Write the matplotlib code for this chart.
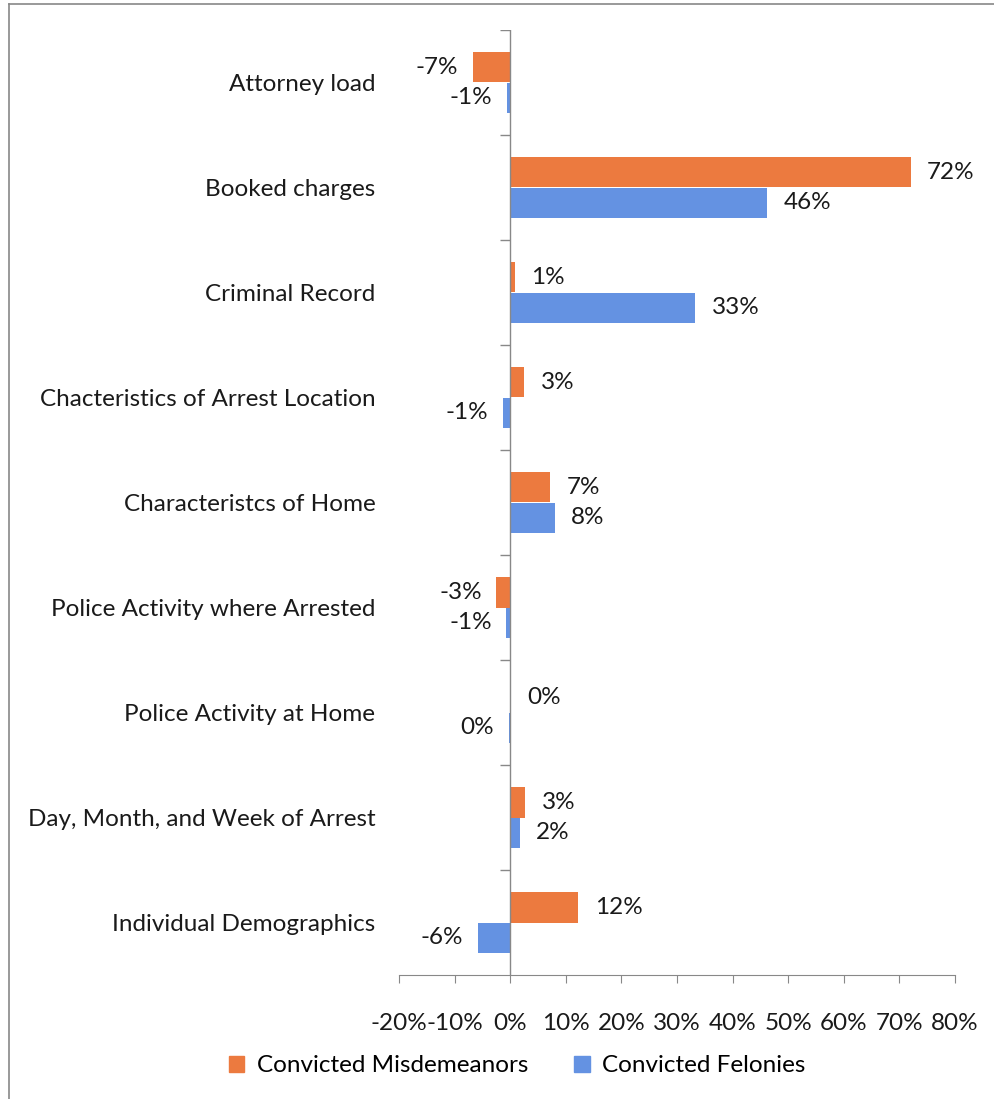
import numpy as np
import matplotlib
matplotlib.use("Agg")
import matplotlib.pyplot as plt
from matplotlib.patches import Patch
from matplotlib.lines import Line2D

plt.rcParams['font.family'] = ['Lato', 'DejaVu Sans']

categories = ["Attorney load", "Booked charges", "Criminal Record",
              "Chacteristics of Arrest Location", "Characteristcs of Home",
              "Police Activity where Arrested", "Police Activity at Home",
              "Day, Month, and Week of Arrest", "Individual Demographics"]
misdemeanors = [-6.7, 72.0, 0.8, 2.5, 7.2, -2.5, 0.1, 2.7, 12.2]
felonies = [-0.6, 46.2, 33.2, -1.3, 8.0, -0.7, -0.3, 1.7, -5.8]
mis_labels = ["-7%", "72%", "1%", "3%", "7%", "-3%", "0%", "3%", "12%"]
fel_labels = ["-1%", "46%", "33%", "-1%", "8%", "-1%", "0%", "2%", "-6%"]
xticks = [-20, -10, 0, 10, 20, 30, 40, 50, 60, 70, 80]

orange = "#EC7A3F"
blue = "#6492E2"
txt = "#1a1a1a"
fs = 17.5

W, H = 994, 1099
fig = plt.figure(figsize=(W / 100, H / 100), dpi=100)
ax = fig.add_axes([399 / W, 1 - 975 / H, (955 - 399) / W, (975 - 30) / H])

n = len(categories)
y = np.arange(n)
h = 0.29
ax.barh(y - h / 2, misdemeanors, height=h, color=orange)
ax.barh(y + h / 2, felonies, height=h, color=blue)

def label(vals, texts, off):
    for i, (v, t) in enumerate(zip(vals, texts)):
        if v >= 0:
            ax.text(v + 3.0, i + off, t, ha="left", va="center", fontsize=fs, color=txt)
        else:
            ax.text(v - 2.6, i + off, t, ha="right", va="center", fontsize=fs, color=txt)

label(misdemeanors, mis_labels, -h / 2)
label(felonies, fel_labels, h / 2)

ax.set_xlim(-20, 80)
ax.set_ylim(n - 0.5, -0.5)
ax.set_xticks(xticks)
ax.set_xticklabels([f"{t}%" for t in xticks], fontsize=fs, color=txt)
ax.tick_params(axis="x", length=6, color="#888888", pad=21)
ax.set_yticks(y)
ax.set_yticklabels(categories, fontsize=fs, color=txt)
ax.tick_params(axis="y", length=0, pad=17)

for s in ["top", "right", "left"]:
    ax.spines[s].set_visible(False)
ax.spines["bottom"].set_color("#888888")
ax.axvline(0, color="#888888", lw=1)
bounds = np.arange(n + 1) - 0.5
ax.hlines(bounds[:-1], -1.8, 0, color="#888888", lw=1)

handles = [Patch(color=orange, label="Convicted Misdemeanors"),
           Patch(color=blue, label="Convicted Felonies")]
fig.legend(handles=handles, loc="center", bbox_to_anchor=(517 / W, 1 - 1066 / H),
           ncol=2, frameon=False, fontsize=fs, handlelength=0.65, handleheight=0.65,
           columnspacing=1.9, handletextpad=0.5)

fig.add_artist(Line2D([9 / W, 9 / W], [0, 1 - 4 / H], color="#888888", lw=1.2))
fig.add_artist(Line2D([9 / W, 1], [1 - 4 / H, 1 - 4 / H], color="#888888", lw=1.2))

fig.savefig("out.png", dpi=100)
